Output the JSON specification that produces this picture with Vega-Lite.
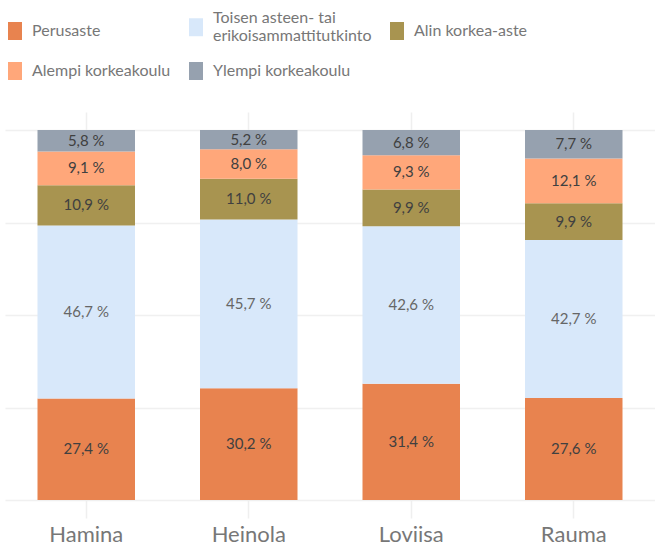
{
  "$schema": "https://vega.github.io/schema/vega-lite/v6.json",
  "autosize": "none",
  "width": 650,
  "height": 370,
  "padding": {"left": 5, "top": 130, "right": 0, "bottom": 47},
  "background": "white",
  "config": {"view": {"stroke": null}, "font": "Lato"},
  "data": {"values": [
    {"city": "Hamina", "level": "Perusaste", "value": 27.4},
    {"city": "Hamina", "level": "Toisen asteen- tai erikoisammattitutkinto", "value": 46.7},
    {"city": "Hamina", "level": "Alin korkea-aste", "value": 10.9},
    {"city": "Hamina", "level": "Alempi korkeakoulu", "value": 9.1},
    {"city": "Hamina", "level": "Ylempi korkeakoulu", "value": 5.8},
    {"city": "Heinola", "level": "Perusaste", "value": 30.2},
    {"city": "Heinola", "level": "Toisen asteen- tai erikoisammattitutkinto", "value": 45.7},
    {"city": "Heinola", "level": "Alin korkea-aste", "value": 11.0},
    {"city": "Heinola", "level": "Alempi korkeakoulu", "value": 8.0},
    {"city": "Heinola", "level": "Ylempi korkeakoulu", "value": 5.2},
    {"city": "Loviisa", "level": "Perusaste", "value": 31.4},
    {"city": "Loviisa", "level": "Toisen asteen- tai erikoisammattitutkinto", "value": 42.6},
    {"city": "Loviisa", "level": "Alin korkea-aste", "value": 9.9},
    {"city": "Loviisa", "level": "Alempi korkeakoulu", "value": 9.3},
    {"city": "Loviisa", "level": "Ylempi korkeakoulu", "value": 6.8},
    {"city": "Rauma", "level": "Perusaste", "value": 27.6},
    {"city": "Rauma", "level": "Toisen asteen- tai erikoisammattitutkinto", "value": 42.7},
    {"city": "Rauma", "level": "Alin korkea-aste", "value": 9.9},
    {"city": "Rauma", "level": "Alempi korkeakoulu", "value": 12.1},
    {"city": "Rauma", "level": "Ylempi korkeakoulu", "value": 7.7}
  ]},
  "transform": [
    {"calculate": "indexof(['Perusaste','Toisen asteen- tai erikoisammattitutkinto','Alin korkea-aste','Alempi korkeakoulu','Ylempi korkeakoulu'], datum.level)", "as": "ord"},
    {"stack": "value", "groupby": ["city"], "sort": [{"field": "ord", "order": "ascending"}], "offset": "normalize", "as": ["y0", "y1"]},
    {"calculate": "(datum.y0 + datum.y1) / 2", "as": "ymid"},
    {"calculate": "replace(format(datum.value, '.1f'), '.', ',') + ' %'", "as": "lbl"}
  ],
  "encoding": {
    "x": {"field": "city", "type": "nominal", "sort": null, "title": null,
      "scale": {"paddingInner": 0.4, "paddingOuter": 0.2}}
  },
  "layer": [
    {
      "mark": {"type": "bar"},
      "encoding": {
        "x": {"field": "city", "type": "nominal", "sort": null, "title": null,
          "axis": {"orient": "bottom", "domain": false, "ticks": true, "tickSize": 18, "tickColor": "#efefef", "tickWidth": 1.5,
            "labelAngle": 0, "labelFontSize": 22, "labelColor": "#777777", "labelPadding": 6, "grid": false}},
        "y": {"field": "y0", "type": "quantitative", "scale": {"domain": [0, 1]}, "title": null,
          "axis": {"values": [0, 0.25, 0.5, 0.75, 1], "labels": false, "ticks": false, "domain": false, "grid": true, "gridColor": "#f0f0f0", "gridWidth": 1.5}},
        "y2": {"field": "y1"},
        "color": {"field": "level", "type": "nominal",
          "scale": {"domain": ["Perusaste", "Toisen asteen- tai erikoisammattitutkinto", "Alin korkea-aste", "Alempi korkeakoulu", "Ylempi korkeakoulu"],
                    "range": ["#E8834F", "#D8E8FA", "#A89450", "#FFA77A", "#96A1AF"]},
          "legend": {"orient": "none", "direction": "horizontal", "legendX": 1, "legendY": -112, "columns": 3, "title": null,
            "symbolType": "M-0.778,-1H0.778V1H-0.778Z", "symbolSize": 324, "symbolStrokeWidth": 0, "symbolOpacity": 1,
            "labelFontSize": 16, "labelColor": "#777777", "labelOffset": 8, "labelLimit": 300,
            "columnPadding": 16, "rowPadding": 18,
            "labelExpr": "datum.label == 'Toisen asteen- tai erikoisammattitutkinto' ? ['Toisen asteen- tai', 'erikoisammattitutkinto'] : datum.label",
            "encode": {"labels": {"update": {"dy": {"signal": "datum.label == 'Toisen asteen- tai erikoisammattitutkinto' ? -9.5 : 0"}}}}}}
      }
    },
    {
      "mark": {"type": "text", "fontSize": 15, "baseline": "middle", "align": "center"},
      "encoding": {
        "x": {"field": "city", "type": "nominal", "sort": null, "title": null,
          "axis": {"orient": "top", "domain": false, "labels": false, "ticks": true, "tickSize": 18, "tickColor": "#efefef", "tickWidth": 1.5, "grid": false}},
        "y": {"field": "ymid", "type": "quantitative", "scale": {"domain": [0, 1]}},
        "text": {"field": "lbl"},
        "color": {"condition": {"test": "datum.level == 'Toisen asteen- tai erikoisammattitutkinto'", "value": "#666666"}, "value": "#404040"}
      }
    }
  ],
  "resolve": {"axis": {"x": "independent"}}
}
